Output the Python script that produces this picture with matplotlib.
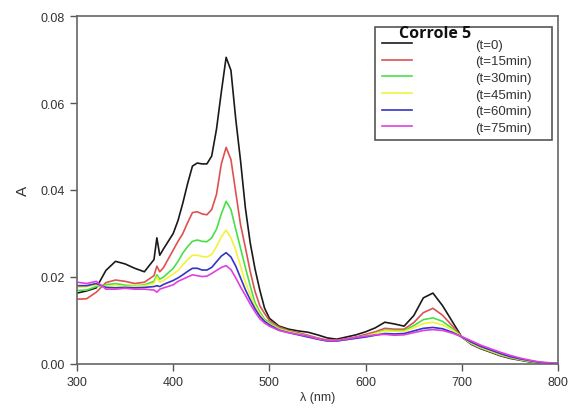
import numpy as np
import matplotlib
matplotlib.use("Agg")
import matplotlib.pyplot as plt

plt.rcParams['font.family'] = ['Liberation Sans', 'DejaVu Sans']

# wavelength grid (nm)
wl = [300, 310, 320, 330, 340, 350, 360, 370, 380, 383, 386, 390, 400,
      405, 410, 415, 420, 425, 430, 435, 440, 445, 450, 455, 460, 465, 470, 475, 480, 485, 490, 495, 500,
      510, 520, 530, 540, 550, 560, 570, 580, 590, 600, 610, 620, 630, 640, 650, 660, 670, 680, 690, 700,
      710, 720, 730, 740, 750, 760, 770, 780, 790, 800]

t0 = [0.0163, 0.0168, 0.0175, 0.0215, 0.0236, 0.0230, 0.0220, 0.0212, 0.0240, 0.0290, 0.0250, 0.0265, 0.0300,
      0.0330, 0.0370, 0.0415, 0.0455, 0.0462, 0.0460, 0.0460, 0.0478, 0.0540, 0.0625, 0.0705, 0.0675, 0.0563,
      0.0467, 0.0359, 0.0279, 0.0219, 0.0170, 0.0128, 0.0105,
      0.0087, 0.0080, 0.0076, 0.0073, 0.0067, 0.0060, 0.0057, 0.0062, 0.0067, 0.0074, 0.0083, 0.0096, 0.0092,
      0.0087, 0.0111, 0.0152, 0.0163, 0.0134, 0.0098, 0.0062,
      0.0045, 0.0035, 0.0027, 0.0019, 0.0013, 0.0009, 0.0005, 0.0003, 0.0001, 0.0000]
t15 = [0.0149, 0.0150, 0.0165, 0.0187, 0.0193, 0.0190, 0.0185, 0.0188, 0.0203, 0.0225, 0.0212, 0.0222, 0.0262,
       0.0282, 0.0300, 0.0325, 0.0348, 0.0350, 0.0345, 0.0343, 0.0355, 0.0390, 0.0460, 0.0498, 0.0470, 0.0395,
       0.0320, 0.0268, 0.0213, 0.0167, 0.0134, 0.0116, 0.0100,
       0.0085, 0.0077, 0.0072, 0.0066, 0.0060, 0.0055, 0.0055, 0.0058, 0.0062, 0.0068, 0.0074, 0.0082, 0.0080,
       0.0080, 0.0095, 0.0118, 0.0128, 0.0112, 0.0088, 0.0062,
       0.0046, 0.0036, 0.0028, 0.0020, 0.0014, 0.0010, 0.0006, 0.0003, 0.0001, 0.0000]
t30 = [0.0169, 0.0170, 0.0178, 0.0182, 0.0185, 0.0181, 0.0180, 0.0182, 0.0190, 0.0205, 0.0195, 0.0200, 0.0220,
       0.0236, 0.0255, 0.0270, 0.0282, 0.0285, 0.0282, 0.0281, 0.0290, 0.0310, 0.0345, 0.0374, 0.0355, 0.0310,
       0.0266, 0.0222, 0.0180, 0.0141, 0.0120, 0.0103, 0.0095,
       0.0082, 0.0075, 0.0070, 0.0064, 0.0058, 0.0053, 0.0053, 0.0056, 0.0060, 0.0065, 0.0071, 0.0078, 0.0077,
       0.0077, 0.0088, 0.0102, 0.0106, 0.0098, 0.0082, 0.0062,
       0.0047, 0.0037, 0.0029, 0.0021, 0.0015, 0.0010, 0.0006, 0.0003, 0.0002, 0.0001]
t45 = [0.0176, 0.0178, 0.0182, 0.0178, 0.0180, 0.0178, 0.0179, 0.0180, 0.0185, 0.0200, 0.0188, 0.0192, 0.0207,
       0.0215, 0.0228, 0.0240, 0.0250, 0.0250, 0.0247, 0.0246, 0.0252, 0.0270, 0.0292, 0.0308, 0.0290, 0.0262,
       0.0225, 0.0188, 0.0160, 0.0134, 0.0115, 0.0100, 0.0092,
       0.0080, 0.0074, 0.0069, 0.0063, 0.0058, 0.0053, 0.0053, 0.0056, 0.0060, 0.0064, 0.0070, 0.0076, 0.0075,
       0.0075, 0.0083, 0.0093, 0.0096, 0.0090, 0.0078, 0.0062,
       0.0048, 0.0038, 0.0030, 0.0022, 0.0016, 0.0011, 0.0007, 0.0004, 0.0002, 0.0001]
t60 = [0.0180, 0.0180, 0.0185, 0.0176, 0.0175, 0.0176, 0.0175, 0.0176, 0.0178, 0.0180, 0.0178, 0.0183, 0.0192,
       0.0198, 0.0205, 0.0213, 0.0220, 0.0220, 0.0216, 0.0216, 0.0222, 0.0235, 0.0248, 0.0256, 0.0246, 0.0225,
       0.0198, 0.0171, 0.0148, 0.0127, 0.0110, 0.0098, 0.0090,
       0.0078, 0.0072, 0.0067, 0.0062, 0.0057, 0.0053, 0.0053, 0.0056, 0.0059, 0.0062, 0.0066, 0.0070, 0.0069,
       0.0070, 0.0076, 0.0082, 0.0084, 0.0081, 0.0073, 0.0062,
       0.0050, 0.0040, 0.0032, 0.0024, 0.0017, 0.0012, 0.0008, 0.0004, 0.0002, 0.0001]
t75 = [0.0188, 0.0185, 0.0190, 0.0172, 0.0172, 0.0174, 0.0172, 0.0172, 0.0170, 0.0165, 0.0172, 0.0175, 0.0182,
       0.0190, 0.0195, 0.0200, 0.0205, 0.0203, 0.0201, 0.0202, 0.0208, 0.0215, 0.0222, 0.0226, 0.0217, 0.0198,
       0.0177, 0.0158, 0.0138, 0.0120, 0.0104, 0.0094, 0.0087,
       0.0077, 0.0072, 0.0068, 0.0064, 0.0058, 0.0054, 0.0054, 0.0057, 0.0061, 0.0064, 0.0067, 0.0068, 0.0066,
       0.0067, 0.0072, 0.0077, 0.0079, 0.0077, 0.0071, 0.0063,
       0.0053, 0.0043, 0.0035, 0.0027, 0.0020, 0.0014, 0.0009, 0.0005, 0.0003, 0.0002]

series = [t0, t15, t30, t45, t60, t75]
labels = ['(t=0)', '(t=15min)', '(t=30min)', '(t=45min)', '(t=60min)', '(t=75min)']
colors = ['#1a1a1a', '#e05050', '#48e048', '#f2f23c', '#3434c8', '#e040e0']

fig = plt.figure(figsize=(5.68, 4.10), dpi=100)
ax = fig.add_axes([0.1356, 0.1098, 0.8468, 0.8487])

for y, lab, c in zip(series, labels, colors):
    ax.plot(wl, y, color=c, lw=1.2, label=lab)

ax.set_xlim(300, 800)
ax.set_ylim(0, 0.08)
ax.set_xticks([300, 400, 500, 600, 700, 800])
ax.set_yticks([0.0, 0.02, 0.04, 0.06, 0.08])
ax.set_yticklabels(['0.00', '0.02', '0.04', '0.06', '0.08'])
ax.tick_params(direction='out', length=5, width=1, color='#555555', labelcolor='#333333', labelsize=9)
for s in ax.spines.values():
    s.set_color('#666666')
    s.set_linewidth(1.2)

ax.set_xlabel('λ (nm)', fontsize=9, color='#333333', labelpad=2)
ax.set_ylabel('A', fontsize=11, color='#333333', labelpad=8)

# legend box stretched to the reference width, title drawn on top
leg = ax.legend(loc='upper left', bbox_to_anchor=(0.6195, 0.0, 0.368, 0.9684), mode='expand',
                borderaxespad=0, fontsize=9.5, title=' ', title_fontsize=3.5,
                alignment='left', handlelength=2.3, handletextpad=4.8, labelspacing=0.33,
                borderpad=0.5, frameon=True, fancybox=False, framealpha=1)
leg.get_frame().set_edgecolor('#555555')
leg.get_frame().set_linewidth(1.2)
leg._legend_box.sep = 0
for t in leg.get_texts():
    t.set_color('#333333')

ax.text(0.669, 0.952, 'Corrole 5', transform=ax.transAxes, ha='left', va='center',
        family='Open Sans', fontweight='bold', fontsize=11.5, color='#111111', zorder=10)

fig.savefig('out.png', dpi=100)
